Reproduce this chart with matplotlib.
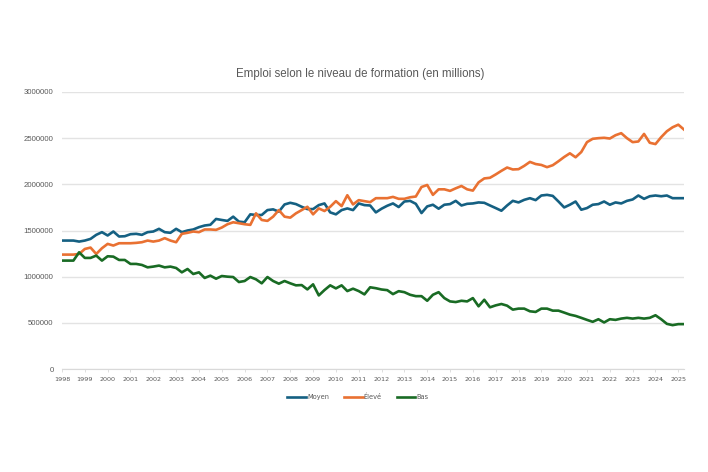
import numpy as np
import matplotlib.pyplot as plt

# quarterly values, 1998 Q1 .. 2025 Q2
years = list(range(1998, 2026))

moyen = [1391, 1391, 1391, 1380, 1391, 1409, 1453, 1482, 1446, 1489, 1435, 1438, 1460, 1464,
         1453, 1482, 1489, 1518, 1482, 1475, 1518, 1482, 1500, 1511, 1536, 1554, 1562,
         1625, 1614, 1604, 1650, 1596, 1589, 1675, 1668, 1668, 1721, 1729, 1704, 1782, 1800,
         1786, 1757, 1732, 1732, 1775, 1793, 1696, 1675, 1721, 1739, 1721, 1793, 1775,
         1771, 1696, 1736, 1768, 1793, 1754, 1814, 1821, 1789, 1689, 1761, 1779, 1736, 1779,
         1786, 1821, 1771, 1789, 1793, 1804, 1800, 1771, 1743, 1714, 1771, 1821,
         1804, 1832, 1850, 1829, 1879, 1886, 1875, 1814, 1750, 1779, 1814, 1725, 1743, 1779,
         1786, 1814, 1779, 1804, 1793, 1821, 1836, 1879, 1843, 1871, 1879, 1871, 1879, 1850,
         1850, 1850]

eleve = [1239, 1239, 1239, 1246, 1300, 1315, 1246, 1308, 1355, 1337, 1362, 1362, 1362, 1366,
         1373, 1391, 1380, 1391, 1417, 1391, 1373, 1464, 1475, 1489, 1482, 1511, 1511,
         1507, 1532, 1568, 1589, 1579, 1568, 1561, 1686, 1614, 1604, 1650, 1721, 1650, 1639,
         1686, 1721, 1757, 1675, 1739, 1711, 1757, 1818, 1764, 1882, 1782, 1829, 1818,
         1807, 1850, 1850, 1850, 1864, 1843, 1843, 1860, 1868, 1971, 1993, 1886, 1946, 1946,
         1929, 1957, 1982, 1946, 1932, 2021, 2064, 2071, 2107, 2146, 2182, 2161,
         2164, 2200, 2243, 2220, 2210, 2186, 2207, 2250, 2296, 2336, 2293, 2350, 2457, 2493,
         2500, 2504, 2496, 2532, 2554, 2500, 2457, 2464, 2546, 2450, 2436, 2511, 2575, 2618,
         2646, 2593]

bas = [1174, 1174, 1174, 1264, 1203, 1203, 1228, 1174, 1221, 1217, 1181, 1181, 1138, 1138,
       1127, 1101, 1109, 1120, 1101, 1109, 1094, 1047, 1083, 1029, 1047, 986, 1011,
       978, 1007, 1000, 996, 942, 953, 996, 971, 928, 996, 953, 924, 953, 928,
       906, 909, 862, 917, 797, 855, 906, 873, 906, 844, 870, 844, 808,
       885, 875, 861, 854, 811, 843, 832, 804, 789, 789, 739, 804, 832, 768,
       732, 725, 739, 732, 768, 679, 750, 668, 689, 704, 686, 643,
       654, 654, 625, 618, 654, 654, 632, 632, 611, 589, 575, 554, 532, 511,
       539, 504, 539, 532, 546, 554, 546, 554, 546, 554, 582, 539, 489, 475,
       486, 486]

moyen = np.array(moyen) * 1000
eleve = np.array(eleve) * 1000
bas = np.array(bas) * 1000
x = np.arange(len(moyen))

gray = '#595959'
narrow = ['Liberation Sans Narrow', 'Liberation Sans', 'DejaVu Sans']

fig = plt.figure(figsize=(7.08, 4.72), dpi=100)
ax = fig.add_axes([62 / 708, 1 - 369 / 472, (684 - 62) / 708, (369 - 92) / 472])

ax.plot(x, moyen, color='#156082', lw=1.9, label='Moyen', solid_joinstyle='round')
ax.plot(x, eleve, color='#E97132', lw=1.9, label='Élevé', solid_joinstyle='round')
ax.plot(x, bas, color='#196B24', lw=1.9, label='Bas', solid_joinstyle='round')

ax.set_xlim(0, len(x) - 1)
ax.set_ylim(0, 3000000)
ax.set_yticks(np.arange(0, 3000001, 500000))
ax.set_yticklabels([str(v) for v in range(0, 3000001, 500000)],
                   family=narrow, fontsize=5.6, color=gray)
ax.set_xticks(np.arange(0, len(x), 4))
ax.set_xticklabels([str(y) for y in years], family='DejaVu Sans', fontsize=4.6, color=gray)
ax.tick_params(axis='y', length=0, pad=6)
ax.tick_params(axis='x', length=2.5, width=0.6, color='#d9d9d9', pad=3)

ax.grid(axis='y', color='#e3e3e3', lw=1)
ax.set_axisbelow(True)
for s in ['top', 'right', 'left']:
    ax.spines[s].set_visible(False)
ax.spines['bottom'].set_color('#d9d9d9')
ax.spines['bottom'].set_linewidth(0.8)

fig.text(360 / 708, 1 - 74 / 472, 'Emploi selon le niveau de formation (en millions)',
         ha='center', va='center', fontsize=8.3, color=gray, family=narrow)

leg = fig.legend(loc='center', bbox_to_anchor=(358 / 708, 1 - 397 / 472), ncol=3,
                 frameon=False, prop={'family': 'DejaVu Sans', 'size': 4.8},
                 handlelength=2.8, handletextpad=0.2, columnspacing=2.2)
for t in leg.get_texts():
    t.set_color(gray)

fig.savefig('out.png', dpi=100, facecolor='white')
